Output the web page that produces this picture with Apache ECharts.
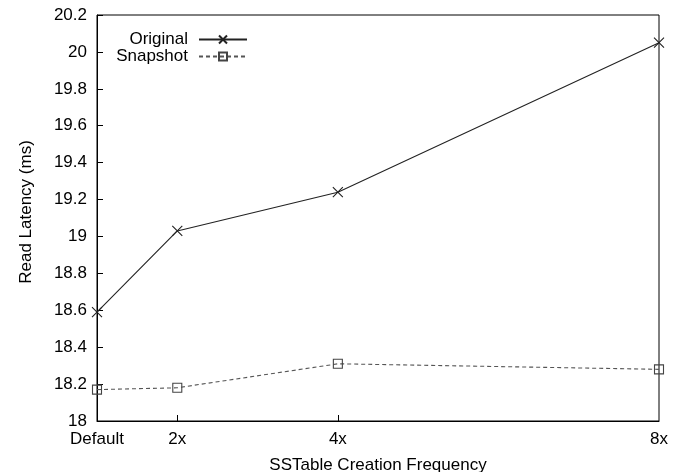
<!DOCTYPE html>
<html>
<head>
<meta charset="utf-8">
<script src="https://cdn.jsdelivr.net/npm/echarts@6/dist/echarts.min.js"></script>
<style>
  html, body { margin: 0; padding: 0; background: #fff; }
  #chart { width: 684px; height: 472px; }
</style>
</head>
<body>
<div id="chart"></div>
<script>
// x positions of the frequencies (Default = 1x)
const xValues = [1, 2, 4, 8];
const xTickLabels = ['Default', '2x', '4x', '8x'];
const originalLatency = [18.59, 19.03, 19.24, 20.05];
const snapshotLatency = [18.17, 18.18, 18.31, 18.28];

const FONT = 'Liberation Sans, Arial, sans-serif';

const labelFor = {};
xValues.forEach((v, i) => { labelFor[v] = xTickLabels[i]; });

const chart = echarts.init(document.getElementById('chart'), null, { renderer: 'canvas' });

const legendText = { fontFamily: FONT, fontSize: 17, color: '#000', padding: [0, 6, 0, 0] };

const option = {
  backgroundColor: '#fff',
  animation: false,
  textStyle: { fontFamily: FONT, fontSize: 17, color: '#000' },
  grid: {
    left: 97, right: 25, top: 15, bottom: 51,
    outerBoundsMode: 'none',
    show: true, borderColor: '#000', borderWidth: 1,
  },
  legend: [
    {
      data: ['Original'],
      right: 431, top: 26,
      align: 'right',
      itemWidth: 48, itemHeight: 10,
      textStyle: legendText,
    },
    {
      data: ['Snapshot'],
      right: 431, top: 43,
      align: 'right',
      itemWidth: 48, itemHeight: 10,
      textStyle: legendText,
    },
  ],
  xAxis: {
    type: 'value',
    min: 1, max: 8,
    name: 'SSTable Creation Frequency',
    nameLocation: 'middle',
    nameGap: 36,
    nameTextStyle: { fontFamily: FONT, fontSize: 17, color: '#000' },
    axisLine: { lineStyle: { color: '#000', width: 1 } },
    axisTick: { inside: true, length: 6, customValues: [2, 4], lineStyle: { color: '#000' } },
    axisLabel: {
      customValues: xValues,
      formatter: v => labelFor[v] || '',
      margin: 10,
      fontFamily: FONT, fontSize: 17, color: '#000',
    },
    splitLine: { show: false },
  },
  yAxis: {
    type: 'value',
    min: 18, max: 20.2, interval: 0.2,
    name: 'Read Latency (ms)',
    nameLocation: 'middle',
    nameGap: 62,
    nameTextStyle: { fontFamily: FONT, fontSize: 17, color: '#000', padding: [0, 0, 0, 12] },
    axisLine: { show: true, lineStyle: { color: '#000', width: 1 } },
    axisTick: { inside: true, length: 6, lineStyle: { color: '#000' } },
    axisLabel: {
      formatter: v => String(Number(v.toFixed(1))),
      margin: 10,
      fontFamily: FONT, fontSize: 17, color: '#000',
    },
    splitLine: { show: false },
  },
  series: [
    {
      name: 'Original',
      type: 'line',
      data: xValues.map((x, i) => [x, originalLatency[i]]),
      symbol: 'path://M0,0L10,10M0,10L10,0',
      symbolSize: 10,
      lineStyle: { color: '#222', width: 1.1 },
      itemStyle: { color: 'transparent', borderColor: '#222', borderWidth: 1.1 },
      clip: false,
    },
    {
      name: 'Snapshot',
      type: 'line',
      data: xValues.map((x, i) => [x, snapshotLatency[i]]),
      symbol: 'rect',
      symbolSize: 9,
      lineStyle: { color: '#555', width: 1.1, type: [4, 3] },
      itemStyle: { color: 'transparent', borderColor: '#444', borderWidth: 1.1 },
      clip: false,
    },
  ],
};

chart.setOption(option);
</script>
</body>
</html>
